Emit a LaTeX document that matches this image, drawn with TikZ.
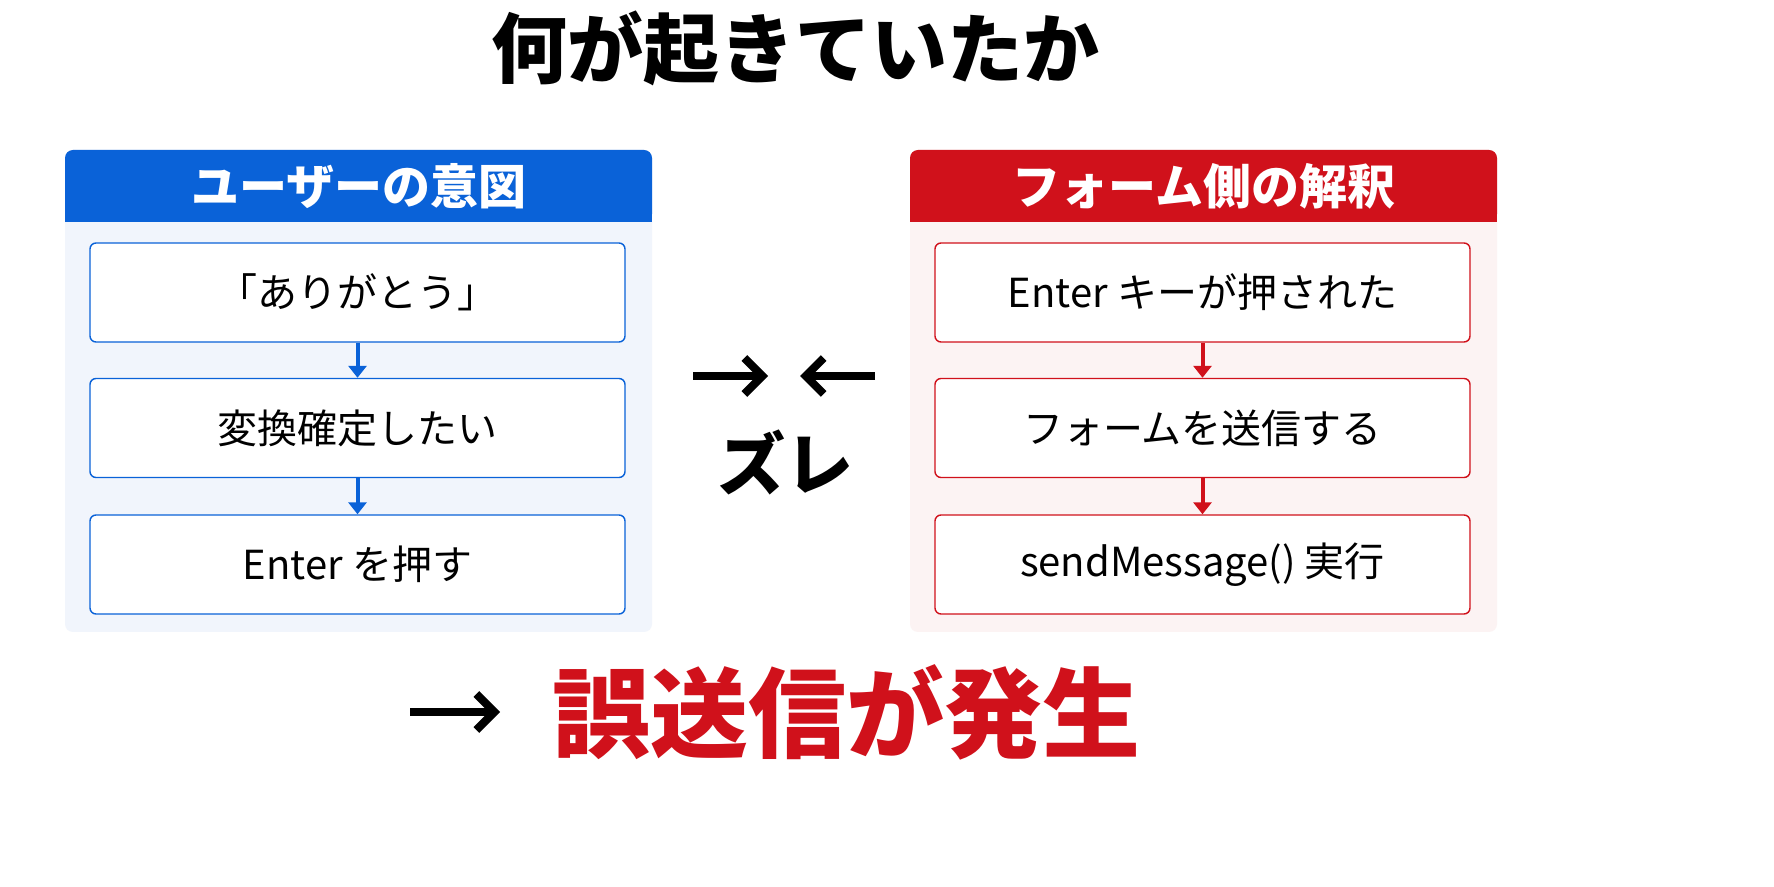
\documentclass[tikz,border=0pt]{standalone}
\usepackage{fontspec}
\setmainfont{Noto Sans CJK JP}
\usetikzlibrary{arrows.meta,positioning}
\definecolor{userblue}{HTML}{0A62D8}
\definecolor{formred}{HTML}{D0111B}
\definecolor{bluebg}{HTML}{F1F5FC}
\definecolor{redbg}{HTML}{FCF3F3}
\tikzset{
  header/.style={minimum width=293.5pt, minimum height=36pt, text=white, font=\bfseries\fontsize{24}{24}\selectfont, anchor=north west, inner sep=0pt},
  stepbox/.style={draw, rounded corners=3pt, fill=white, line width=0.7pt, minimum width=267.5pt, minimum height=49.5pt, font=\fontsize{20}{20}\selectfont, inner sep=0pt},
  flow/.style={line width=2pt, -{Triangle[length=6pt,width=9pt]}},
  bigarrow/.style={line width=4pt, -{Straight Barb[length=9pt,width=18pt,line width=4pt]}}
}
\begin{document}
\begin{tikzpicture}[x=0.5pt, y=-0.5pt]
  \fill[white] (0,0) rectangle (1774,887);
  \node (title) at (795,48) {\bfseries\fontsize{38}{38}\selectfont 何が起きていたか};

  % user side
  \fill[bluebg, rounded corners=4pt] (65,150) rectangle (652,632);
  \fill[userblue, rounded corners=4pt] (65,150) rectangle (652,222);
  \fill[userblue] (65,200) rectangle (652,222);
  \node[header] (uhead) at (65,150) {ユーザーの意図};
  \node[stepbox, draw=userblue] (u1) at (357.5,292.5) {「ありがとう」};
  \node[stepbox, draw=userblue] (u2) at (357.5,428) {変換確定したい};
  \node[stepbox, draw=userblue] (u3) at (357.5,564.5) {Enter を押す};
  \draw[flow, userblue] (u1) -- (u2);
  \draw[flow, userblue] (u2) -- (u3);

  % form side
  \fill[redbg, rounded corners=4pt] (910,150) rectangle (1497,632);
  \fill[formred, rounded corners=4pt] (910,150) rectangle (1497,222);
  \fill[formred] (910,200) rectangle (1497,222);
  \node[header] (fhead) at (910,150) {フォーム側の解釈};
  \node[stepbox, draw=formred] (f1) at (1202.5,292.5) {Enter キーが押された};
  \node[stepbox, draw=formred] (f2) at (1202.5,428) {フォームを送信する};
  \node[stepbox, draw=formred] (f3) at (1202.5,564.5) {sendMessage() 実行};
  \draw[flow, formred] (f1) -- (f2);
  \draw[flow, formred] (f2) -- (f3);

  % gap
  \coordinate (la) at (693,376);
  \coordinate (lb) at (768,376);
  \coordinate (ra) at (875,376);
  \coordinate (rb) at (800,376);
  \draw[bigarrow] (la) -- (lb);
  \draw[bigarrow] (ra) -- (rb);
  \node (gap) at (785,462) {\bfseries\fontsize{34}{34}\selectfont ズレ};

  % result
  \node[text=formred] (result) at (846,712) {\bfseries\fontsize{49}{49}\selectfont 誤送信が発生};
  \coordinate (ra0) at (410,712);
  \draw[bigarrow] (ra0) -- ++(90,0);
  \pgfresetboundingbox
  \useasboundingbox (0,0) rectangle (1774,887);
\end{tikzpicture}
\end{document}
